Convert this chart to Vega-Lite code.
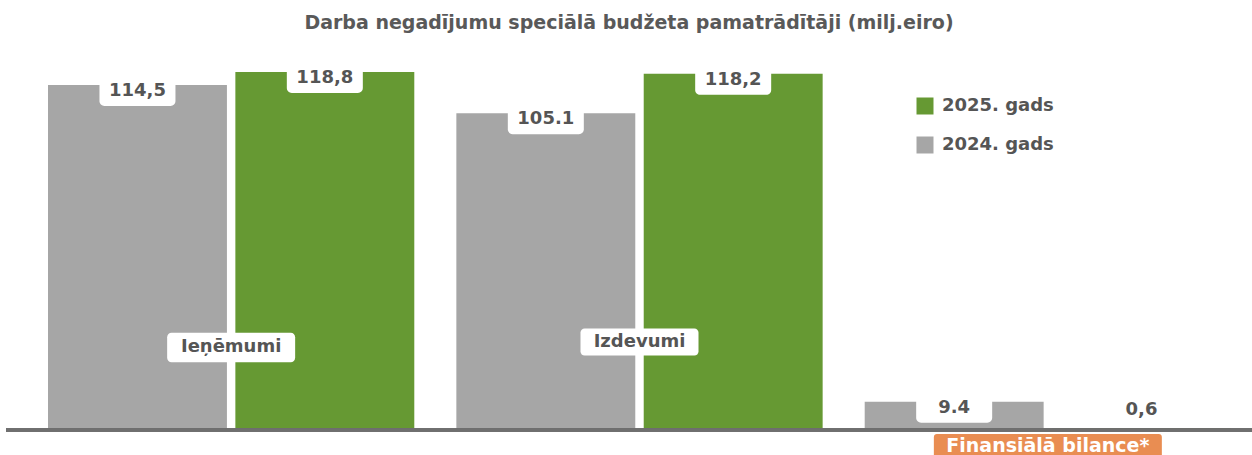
{
  "$schema": "https://vega.github.io/schema/vega-lite/v6.json",
  "autosize": "none",
  "width": 1246,
  "height": 405,
  "padding": {"left": 6, "top": 50, "right": 0, "bottom": 0},
  "background": "white",
  "config": {"view": {"stroke": null}, "font": "DejaVu Sans"},
  "title": {
    "text": "Darba negadījumu speciālā budžeta pamatrādītāji (milj.eiro)",
    "anchor": "middle",
    "frame": "group",
    "font": "DejaVu Sans",
    "fontSize": 19,
    "fontWeight": "bold",
    "color": "#595959",
    "baseline": "alphabetic",
    "offset": 22,
    "dy": 20
  },
  "data": {
    "values": [
      {"cat": "Ieņēmumi", "year": "2024. gads", "value": 114.5, "label": "114,5"},
      {"cat": "Ieņēmumi", "year": "2025. gads", "value": 118.8, "label": "118,8"},
      {"cat": "Izdevumi", "year": "2024. gads", "value": 105.1, "label": "105.1"},
      {"cat": "Izdevumi", "year": "2025. gads", "value": 118.2, "label": "118,2"},
      {"cat": "Finansiālā bilance*", "year": "2024. gads", "value": 9.4, "label": "9.4"},
      {"cat": "Finansiālā bilance*", "year": "2025. gads", "value": 0.6, "label": "0,6"}
    ]
  },
  "encoding": {
    "x": {
      "field": "cat",
      "type": "nominal",
      "sort": null,
      "axis": null,
      "scale": {"range": [42, 1225], "paddingInner": 0.103, "paddingOuter": 0}
    }
  },
  "layer": [
    {
      "mark": {"type": "bar"},
      "encoding": {
        "xOffset": {
          "field": "year",
          "type": "nominal",
          "scale": {"domain": ["2024. gads", "2025. gads"], "paddingInner": 0.045, "paddingOuter": 0}
        },
        "y": {
          "field": "value",
          "type": "quantitative",
          "axis": null,
          "scale": {"domain": [-8.3, 126.1], "nice": false, "zero": false}
        },
        "y2": {"datum": 0},
        "color": {
          "field": "year",
          "type": "nominal",
          "scale": {"domain": ["2025. gads", "2024. gads"], "range": ["#669933", "#a6a6a6"]},
          "legend": {
            "title": null,
            "orient": "none",
            "legendX": 910,
            "legendY": 47,
            "padding": 0,
            "symbolType": "square",
            "symbolSize": 289,
            "symbolStrokeWidth": 0,
            "symbolOpacity": 1,
            "labelFont": "DejaVu Sans",
            "labelFontSize": 18,
            "labelFontWeight": "bold",
            "labelColor": "#555555",
            "labelOffset": 8,
            "rowPadding": 21
          }
        }
      }
    },
    {
      "mark": {"type": "rule", "color": "#6f6f6f", "strokeWidth": 3},
      "encoding": {"x": null, "y": {"datum": 0, "type": "quantitative"}}
    },
    {
      "transform": [{"calculate": "max(datum.value, 8.5)", "as": "labelAt"}],
      "mark": {
        "type": "point",
        "shape": "M-0.87,-0.395 H0.87 A0.13,0.13 0 0 1 1,-0.265 V0.265 A0.13,0.13 0 0 1 0.87,0.395 H-0.87 A0.13,0.13 0 0 1 -1,0.265 V-0.265 A0.13,0.13 0 0 1 -0.87,-0.395 Z",
        "size": 5776,
        "filled": true,
        "fill": "white",
        "opacity": 1,
        "strokeWidth": 0,
        "yOffset": 6
      },
      "encoding": {
        "xOffset": {"field": "year", "type": "nominal", "scale": {"domain": ["2024. gads", "2025. gads"]}},
        "y": {"field": "labelAt", "type": "quantitative"}
      }
    },
    {
      "transform": [{"calculate": "max(datum.value, 8.5)", "as": "labelAt"}],
      "mark": {
        "type": "text",
        "fontSize": 18,
        "fontWeight": "bold",
        "color": "#555555",
        "baseline": "middle",
        "yOffset": 6
      },
      "encoding": {
        "xOffset": {"field": "year", "type": "nominal", "scale": {"domain": ["2024. gads", "2025. gads"]}},
        "y": {"field": "labelAt", "type": "quantitative"},
        "text": {"field": "label"}
      }
    },
    {
      "transform": [{"filter": "datum.year === '2024. gads' && datum.cat === 'Ieņēmumi'"}],
      "mark": {
        "type": "point",
        "shape": "M-0.93,-0.23 H0.93 A0.07,0.07 0 0 1 1,-0.16 V0.16 A0.07,0.07 0 0 1 0.93,0.23 H-0.93 A0.07,0.07 0 0 1 -1,0.16 V-0.16 A0.07,0.07 0 0 1 -0.93,-0.23 Z",
        "size": 16384,
        "filled": true,
        "fill": "white",
        "opacity": 1,
        "strokeWidth": 0
      },
      "encoding": {"y": {"datum": 27.4, "type": "quantitative"}}
    },
    {
      "transform": [{"filter": "datum.year === '2024. gads' && datum.cat === 'Ieņēmumi'"}],
      "mark": {"type": "text", "fontSize": 18, "fontWeight": "bold", "color": "#555555", "baseline": "middle", "yOffset": 0},
      "encoding": {"y": {"datum": 27.4, "type": "quantitative"}, "text": {"field": "cat"}}
    },
    {
      "transform": [{"filter": "datum.year === '2024. gads' && datum.cat === 'Izdevumi'"}],
      "mark": {
        "type": "point",
        "shape": "M-0.93,-0.23 H0.93 A0.07,0.07 0 0 1 1,-0.16 V0.16 A0.07,0.07 0 0 1 0.93,0.23 H-0.93 A0.07,0.07 0 0 1 -1,0.16 V-0.16 A0.07,0.07 0 0 1 -0.93,-0.23 Z",
        "size": 13924,
        "filled": true,
        "fill": "white",
        "opacity": 1,
        "strokeWidth": 0
      },
      "encoding": {"y": {"datum": 29.2, "type": "quantitative"}}
    },
    {
      "transform": [{"filter": "datum.year === '2024. gads' && datum.cat === 'Izdevumi'"}],
      "mark": {"type": "text", "fontSize": 18, "fontWeight": "bold", "color": "#555555", "baseline": "middle", "yOffset": 0},
      "encoding": {"y": {"datum": 29.2, "type": "quantitative"}, "text": {"field": "cat"}}
    },
    {
      "transform": [{"filter": "datum.year === '2024. gads' && datum.cat === 'Finansiālā bilance*'"}],
      "mark": {
        "type": "point",
        "shape": "M-0.974,-0.123 H0.974 A0.026,0.026 0 0 1 1,-0.097 V0.097 A0.026,0.026 0 0 1 0.974,0.123 H-0.974 A0.026,0.026 0 0 1 -1,0.097 V-0.097 A0.026,0.026 0 0 1 -0.974,-0.123 Z",
        "size": 51984,
        "filled": true,
        "fill": "#e98d52",
        "opacity": 1,
        "strokeWidth": 0
      },
      "encoding": {"y": {"datum": -6.0, "type": "quantitative"}}
    },
    {
      "transform": [{"filter": "datum.year === '2024. gads' && datum.cat === 'Finansiālā bilance*'"}],
      "mark": {"type": "text", "fontSize": 19, "fontWeight": "bold", "color": "white", "baseline": "middle", "yOffset": 0},
      "encoding": {"y": {"datum": -5.3, "type": "quantitative"}, "text": {"field": "cat"}}
    }
  ]
}
